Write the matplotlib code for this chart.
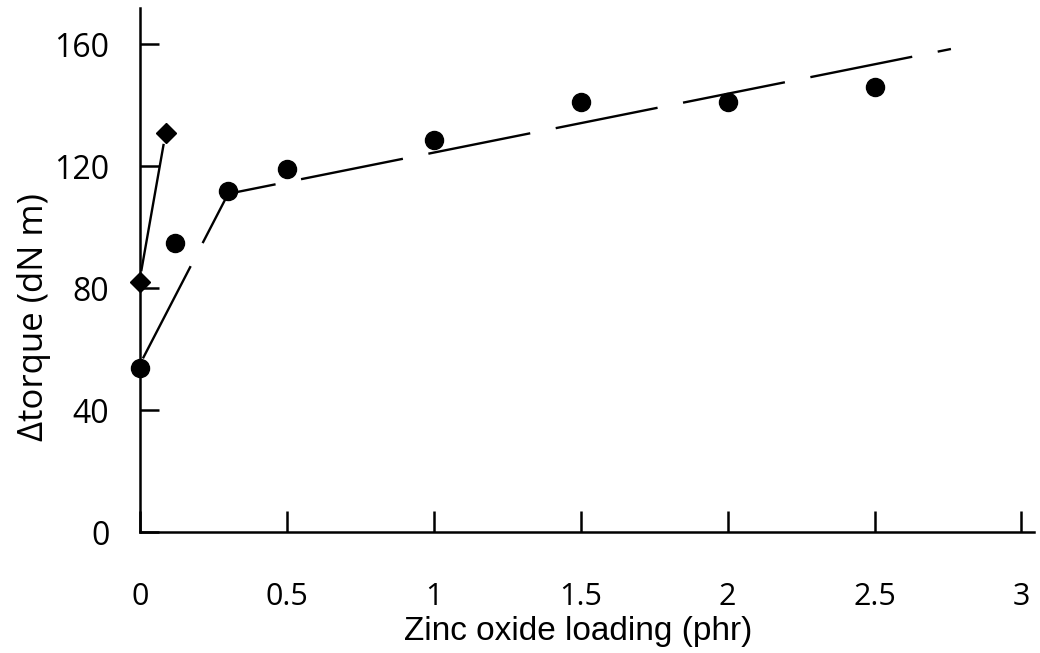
import matplotlib
matplotlib.use("Agg")
import matplotlib.pyplot as plt

zno_x = [0, 0.12, 0.3, 0.5, 1.0, 1.5, 2.0, 2.5]
zno_torque = [54, 95, 112, 119, 128.5, 141, 141, 146]

dia_x = [0, 0.09]
dia_torque = [82, 131]

# hand-drawn guide lines
trend_x = [0.01, 0.3, 2.76]
trend_y = [57, 111, 158.5]
dia_line_x = [0.005, 0.08]
dia_line_y = [86, 127]

xticks = [0, 0.5, 1, 1.5, 2, 2.5, 3]
xticklabels = ['0', '0.5', '1', '1.5', '2', '2.5', '3']
yticks = [0, 40, 80, 120, 160]

plt.rcParams['font.family'] = ['Open Sans', 'DejaVu Sans']

fig = plt.figure(figsize=(10.4, 6.53), dpi=100)
ax = fig.add_axes([0.1346, 0.185, 0.86, 0.803])

ax.plot(trend_x, trend_y, color='black', linewidth=1.7, dashes=(44, 11), zorder=2)
ax.plot(dia_line_x, dia_line_y, color='black', linewidth=1.7, zorder=2)

ax.plot(zno_x, zno_torque, linestyle='none', marker='o', markersize=13,
        color='black', zorder=3, clip_on=False)
ax.plot(dia_x, dia_torque, linestyle='none', marker='D', markersize=10,
        color='black', zorder=3, clip_on=False)

ax.set_xlim(0, 3.044)
ax.set_ylim(0, 172)

for side in ['top', 'right']:
    ax.spines[side].set_visible(False)
for side in ['left', 'bottom']:
    ax.spines[side].set_linewidth(1.8)

ax.set_xticks(xticks)
ax.set_xticklabels(xticklabels)
ax.set_yticks(yticks)
ax.tick_params(axis='x', direction='in', length=15, width=1.8, pad=36, labelsize=22)
ax.tick_params(axis='y', direction='in', length=14, width=1.8, pad=22, labelsize=23)

ax.set_xlabel('Zinc oxide loading (phr)', fontsize=24,
              family=['Liberation Sans Narrow', 'Liberation Sans', 'DejaVu Sans'])
ax.xaxis.set_label_coords(0.49, -0.16)
ax.set_ylabel('\u0394torque (dN m)', fontsize=25)
ax.yaxis.set_label_coords(-0.1, 0.41)

fig.savefig('out.png', dpi=100)
